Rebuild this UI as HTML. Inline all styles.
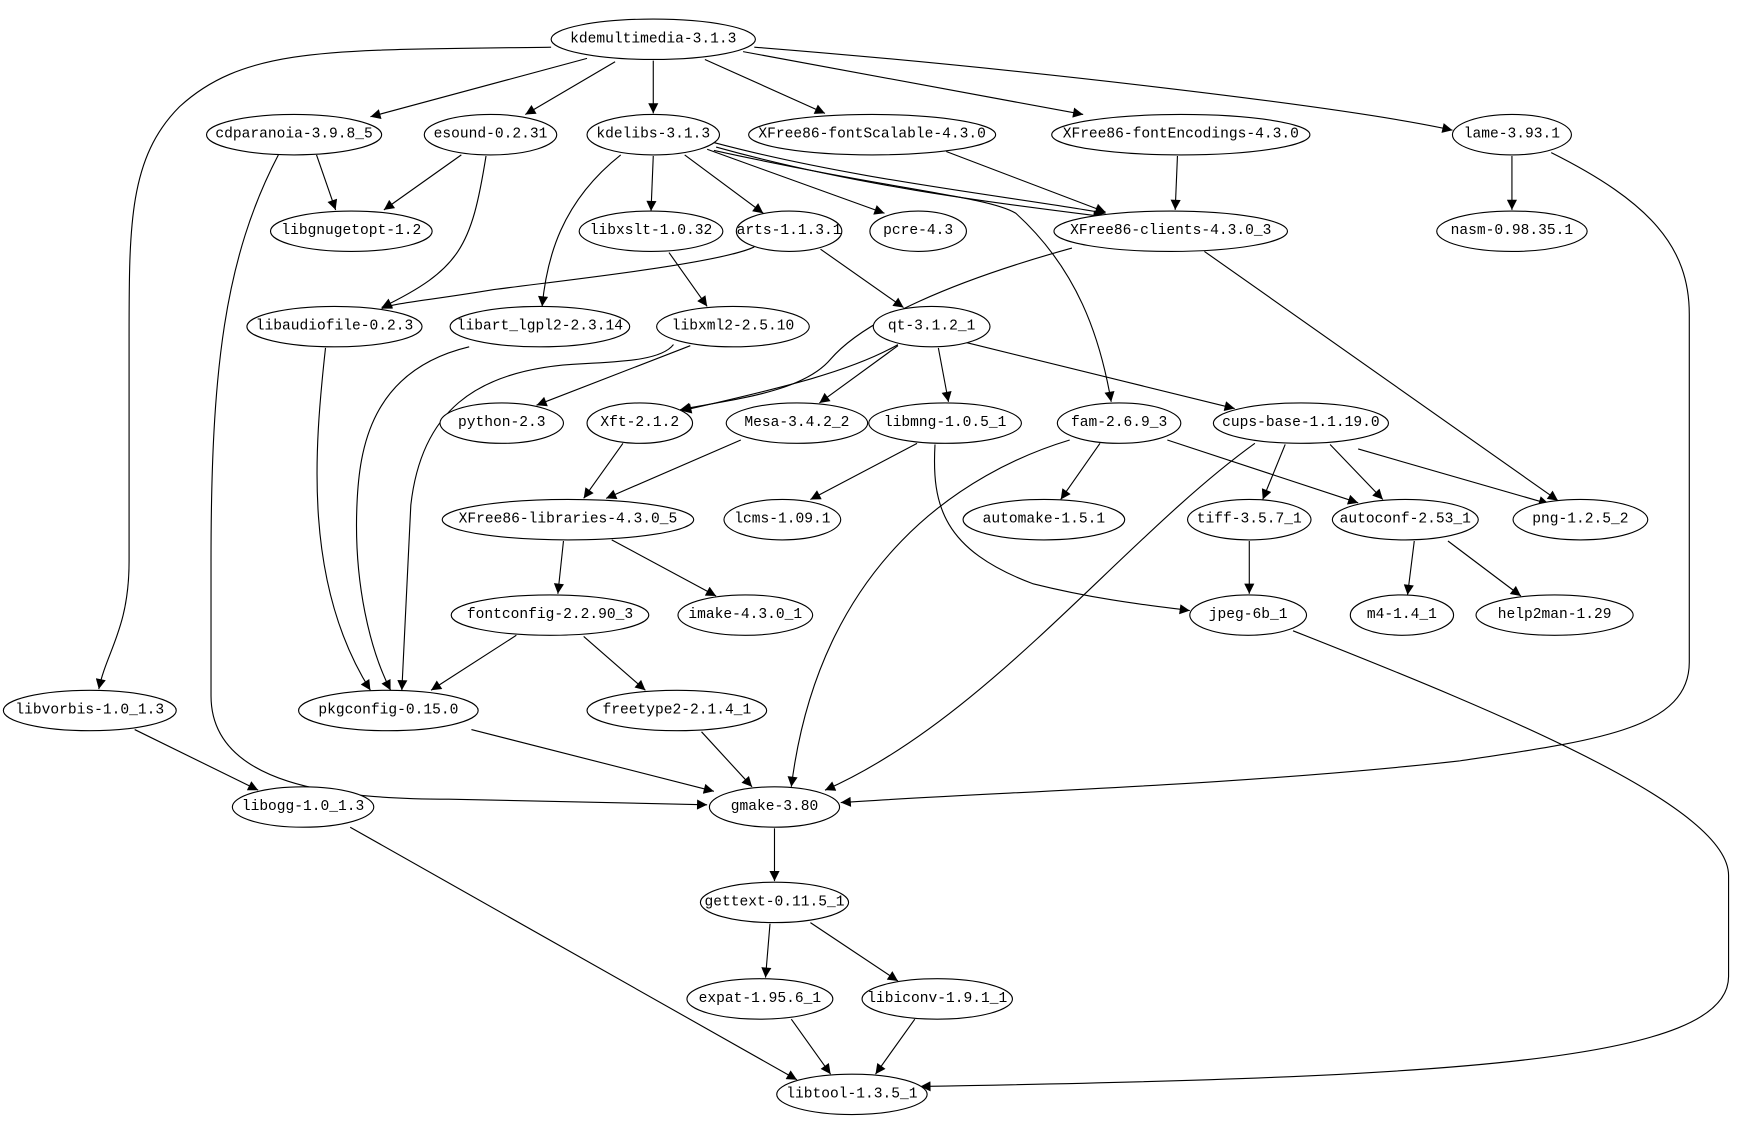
<!DOCTYPE html>
<html><head><meta charset="utf-8"><style>
html,body{margin:0;padding:0;background:#fff;}
svg{display:block;}
text{font-family:"Liberation Mono",monospace;font-size:13px;fill:#000;}
</style></head><body>
<svg width="1760" height="1137" viewBox="0 0 1568 1013" preserveAspectRatio="none" xmlns="http://www.w3.org/2000/svg">
<defs><marker id="a" viewBox="0 0 10 10" refX="10" refY="5" markerWidth="12" markerHeight="9" markerUnits="userSpaceOnUse" orient="auto"><path d="M0,0 L10,5 L0,10 z" fill="#000"/></marker></defs>
<g fill="none" stroke="#000" stroke-width="1" marker-end="url(#a)">
<path d="M523,52 L330,104"/>
<path d="M548,55 L468,102"/>
<path d="M582,54 L582,101"/>
<path d="M628,53 L735,101"/>
<path d="M662,46 L965,102"/>
<path d="M672,42 C900,60 1200,95 1294,116"/>
<path d="M491,42 C300,45 220,40 160,95 C115,140 115,200 115,300 L115,500 C115,560 95,580 88,614"/>
<path d="M582,139 L580,188"/>
<path d="M610,138 L680,190"/>
<path d="M630,133 L788,190"/>
<path d="M636,127 C760,160 900,175 985,190"/>
<path d="M638,131 C760,165 880,180 983,193"/>
<path d="M636,134 C800,170 880,175 905,190 C960,240 980,300 990,358"/>
<path d="M553,138 C500,180 487,230 483,273"/>
<path d="M282,138 L299,187"/>
<path d="M248,138 C200,230 188,330 188,500 L188,620 C188,700 300,712 400,712 L630,717"/>
<path d="M411,138 L342,187"/>
<path d="M433,139 C420,220 410,240 340,274"/>
<path d="M843,135 L985,189"/>
<path d="M1049,139 L1047,187"/>
<path d="M1347,139 L1347,187"/>
<path d="M1382,136 C1470,180 1505,220 1505,280 L1505,590 C1505,650 1420,660 1300,678 C1100,700 900,705 749,715"/>
<path d="M596,225 L630,273"/>
<path d="M672,220 C640,235 500,250 440,258 C380,268 350,270 340,275"/>
<path d="M731,222 L805,274"/>
<path d="M955,221 C850,250 770,285 740,320 C715,350 650,356 606,365"/>
<path d="M1073,224 L1388,446"/>
<path d="M290,310 C280,400 270,520 330,615"/>
<path d="M418,309 C330,330 320,400 318,450 C315,520 330,580 348,615"/>
<path d="M600,307 C590,320 560,322 520,324 C420,328 375,370 366,450 L358,615"/>
<path d="M615,308 L478,361"/>
<path d="M800,307 C760,330 700,345 607,366"/>
<path d="M800,308 L730,359"/>
<path d="M836,310 L845,358"/>
<path d="M860,305 L1100,364"/>
<path d="M555,395 L520,444"/>
<path d="M660,392 L540,444"/>
<path d="M817,395 L722,445"/>
<path d="M833,396 C830,450 840,490 920,520 C980,535 1030,540 1060,544"/>
<path d="M980,395 L945,445"/>
<path d="M1040,392 L1210,448"/>
<path d="M953,392 C860,420 730,500 705,701"/>
<path d="M1118,395 C1000,480 880,640 735,704"/>
<path d="M1145,396 L1125,445"/>
<path d="M1185,396 L1232,445"/>
<path d="M1210,400 L1380,449"/>
<path d="M502,482 L497,529"/>
<path d="M545,481 L638,531"/>
<path d="M1260,482 L1254,530"/>
<path d="M1290,482 L1355,531"/>
<path d="M1113,482 L1113,529"/>
<path d="M460,566 L384,615"/>
<path d="M520,567 L575,615"/>
<path d="M420,650 L636,705"/>
<path d="M625,652 L670,701"/>
<path d="M120,650 L230,704"/>
<path d="M312,737 L710,962"/>
<path d="M1152,562 C1350,640 1540,720 1540,780 L1540,870 C1540,945 1300,960 820,968"/>
<path d="M690,738 L690,785"/>
<path d="M686,823 L682,871"/>
<path d="M722,822 L800,874"/>
<path d="M705,908 L740,957"/>
<path d="M815,908 L780,957"/>
</g>
<g fill="#fff" stroke="#000" stroke-width="1">
<ellipse cx="582" cy="35" rx="91" ry="18"/>
<ellipse cx="262" cy="120" rx="78" ry="18"/>
<ellipse cx="437" cy="120" rx="59" ry="18"/>
<ellipse cx="582" cy="120" rx="59" ry="18"/>
<ellipse cx="777" cy="120" rx="110" ry="18"/>
<ellipse cx="1052" cy="120" rx="115" ry="18"/>
<ellipse cx="1347" cy="120" rx="53" ry="18"/>
<ellipse cx="313" cy="206" rx="72" ry="18"/>
<ellipse cx="580" cy="206" rx="64" ry="18"/>
<ellipse cx="703" cy="206" rx="47" ry="18"/>
<ellipse cx="818" cy="206" rx="43" ry="18"/>
<ellipse cx="1043" cy="206" rx="104" ry="18"/>
<ellipse cx="1347" cy="206" rx="67" ry="18"/>
<ellipse cx="298" cy="291" rx="78" ry="18"/>
<ellipse cx="481" cy="291" rx="80" ry="18"/>
<ellipse cx="653" cy="291" rx="68" ry="18"/>
<ellipse cx="830" cy="291" rx="52" ry="18"/>
<ellipse cx="447" cy="377" rx="55" ry="18"/>
<ellipse cx="570" cy="377" rx="47" ry="18"/>
<ellipse cx="710" cy="377" rx="63" ry="18"/>
<ellipse cx="842" cy="377" rx="68" ry="18"/>
<ellipse cx="997" cy="377" rx="55" ry="18"/>
<ellipse cx="1159" cy="377" rx="78" ry="18"/>
<ellipse cx="506" cy="463" rx="112" ry="18"/>
<ellipse cx="697" cy="463" rx="52" ry="18"/>
<ellipse cx="930" cy="463" rx="72" ry="18"/>
<ellipse cx="1113" cy="463" rx="55" ry="18"/>
<ellipse cx="1252" cy="463" rx="65" ry="18"/>
<ellipse cx="1408" cy="463" rx="60" ry="18"/>
<ellipse cx="490" cy="548" rx="88" ry="18"/>
<ellipse cx="664" cy="548" rx="60" ry="18"/>
<ellipse cx="1112" cy="548" rx="52" ry="18"/>
<ellipse cx="1249" cy="548" rx="46" ry="18"/>
<ellipse cx="1385" cy="548" rx="70" ry="18"/>
<ellipse cx="80" cy="633" rx="77" ry="18"/>
<ellipse cx="346" cy="633" rx="80" ry="18"/>
<ellipse cx="603" cy="633" rx="80" ry="18"/>
<ellipse cx="270" cy="719" rx="63" ry="18"/>
<ellipse cx="690" cy="719" rx="58" ry="18"/>
<ellipse cx="690" cy="804" rx="66" ry="18"/>
<ellipse cx="677" cy="890" rx="65" ry="18"/>
<ellipse cx="835" cy="890" rx="67" ry="18"/>
<ellipse cx="759" cy="975" rx="67" ry="18"/>
</g>
<g text-anchor="middle" dominant-baseline="central">
<text x="582" y="35">kdemultimedia-3.1.3</text>
<text x="262" y="120">cdparanoia-3.9.8_5</text>
<text x="437" y="120">esound-0.2.31</text>
<text x="582" y="120">kdelibs-3.1.3</text>
<text x="777" y="120">XFree86-fontScalable-4.3.0</text>
<text x="1052" y="120">XFree86-fontEncodings-4.3.0</text>
<text x="1347" y="120">lame-3.93.1</text>
<text x="313" y="206">libgnugetopt-1.2</text>
<text x="580" y="206">libxslt-1.0.32</text>
<text x="703" y="206">arts-1.1.3.1</text>
<text x="818" y="206">pcre-4.3</text>
<text x="1043" y="206">XFree86-clients-4.3.0_3</text>
<text x="1347" y="206">nasm-0.98.35.1</text>
<text x="298" y="291">libaudiofile-0.2.3</text>
<text x="481" y="291">libart_lgpl2-2.3.14</text>
<text x="653" y="291">libxml2-2.5.10</text>
<text x="830" y="291">qt-3.1.2_1</text>
<text x="447" y="377">python-2.3</text>
<text x="570" y="377">Xft-2.1.2</text>
<text x="710" y="377">Mesa-3.4.2_2</text>
<text x="842" y="377">libmng-1.0.5_1</text>
<text x="997" y="377">fam-2.6.9_3</text>
<text x="1159" y="377">cups-base-1.1.19.0</text>
<text x="506" y="463">XFree86-libraries-4.3.0_5</text>
<text x="697" y="463">lcms-1.09.1</text>
<text x="930" y="463">automake-1.5.1</text>
<text x="1113" y="463">tiff-3.5.7_1</text>
<text x="1252" y="463">autoconf-2.53_1</text>
<text x="1408" y="463">png-1.2.5_2</text>
<text x="490" y="548">fontconfig-2.2.90_3</text>
<text x="664" y="548">imake-4.3.0_1</text>
<text x="1112" y="548">jpeg-6b_1</text>
<text x="1249" y="548">m4-1.4_1</text>
<text x="1385" y="548">help2man-1.29</text>
<text x="80" y="633">libvorbis-1.0_1.3</text>
<text x="346" y="633">pkgconfig-0.15.0</text>
<text x="603" y="633">freetype2-2.1.4_1</text>
<text x="270" y="719">libogg-1.0_1.3</text>
<text x="690" y="719">gmake-3.80</text>
<text x="690" y="804">gettext-0.11.5_1</text>
<text x="677" y="890">expat-1.95.6_1</text>
<text x="835" y="890">libiconv-1.9.1_1</text>
<text x="759" y="975">libtool-1.3.5_1</text>
</g>
</svg>
</body></html>
